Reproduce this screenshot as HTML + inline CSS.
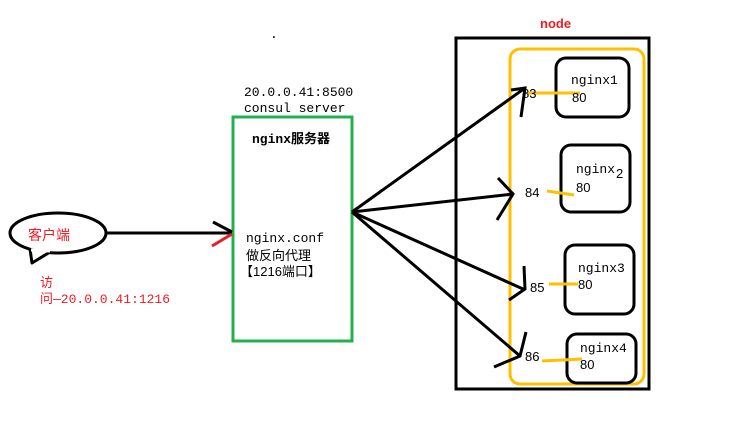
<!DOCTYPE html>
<html><head><meta charset="utf-8"><style>
body{margin:0;background:#fff}
svg{display:block}
text{font-family:"Liberation Mono","Noto Sans CJK SC",monospace;font-size:13px;fill:#000}
.s{font-family:"Liberation Sans","Noto Sans CJK SC",sans-serif}
</style></head><body>
<svg width="751" height="427" viewBox="0 0 751 427">
<rect x="456" y="38" width="193" height="351" fill="none" stroke="#000" stroke-width="3"/>
<rect x="510" y="49" width="134" height="335" rx="10" fill="none" stroke="#ffc000" stroke-width="3"/>
<rect x="556" y="58" width="73" height="59" rx="10" fill="none" stroke="#000" stroke-width="3"/>
<rect x="561" y="145" width="69" height="67" rx="10" fill="none" stroke="#000" stroke-width="3"/>
<rect x="565" y="245" width="69" height="69" rx="10" fill="none" stroke="#000" stroke-width="3"/>
<rect x="567" y="334" width="69" height="49" rx="10" fill="none" stroke="#000" stroke-width="3"/>
<rect x="233" y="117" width="119" height="224" fill="none" stroke="#22b14c" stroke-width="3"/>
<ellipse cx="58" cy="233" rx="48" ry="20" fill="#fff" stroke="#000" stroke-width="3"/>
<polyline points="30,249 32,263 50,252" fill="#fff" stroke="#000" stroke-width="3" stroke-linejoin="round"/>
<line x1="31" y1="250" x2="50" y2="251" stroke="#fff" stroke-width="3"/>
<g stroke="#000" stroke-width="3" fill="none">
<line x1="107" y1="233" x2="232" y2="233"/>
<line x1="213" y1="222" x2="232" y2="232"/>
<line x1="352" y1="212" x2="525" y2="88"/>
<line x1="352" y1="212" x2="513" y2="194"/>
<line x1="352" y1="212" x2="523" y2="289"/>
<line x1="352" y1="212" x2="520" y2="356"/>
<polyline points="511,90 525,88 521,117"/>
<polyline points="498,178 513,194 497,220"/>
<polyline points="524,266 525,289 509,300"/>
<polyline points="526,332 520,356 494,367"/>
</g>
<line x1="212" y1="246" x2="232" y2="234" stroke="#ed1c24" stroke-width="3"/>
<g stroke="#ffc000" stroke-width="3">
<line x1="528" y1="93" x2="580" y2="93"/>
<line x1="547" y1="191" x2="574" y2="195"/>
<line x1="549" y1="284" x2="578" y2="284"/>
<line x1="542" y1="361" x2="582" y2="359"/>
</g>
<text x="540" y="28" style="fill:#ed1c24;font-weight:bold" class="s" font-size="12">node</text>
<text x="244" y="96">20.0.0.41:8500</text>
<text x="244" y="112">consul server</text>
<text x="252" y="143" font-weight="bold">nginx服务器</text>
<text x="246" y="242">nginx.conf</text>
<text x="246" y="260" class="s">做反向代理</text>
<text x="240" y="276" class="s">【1216端口】</text>
<text x="28" y="240" class="s" style="fill:#ed1c24;font-size:14px">客户端</text>
<text x="40" y="287" class="s" style="fill:#ed1c24">访</text>
<text x="40" y="303" style="fill:#ed1c24">问—20.0.0.41:1216</text>
<text x="571" y="84">nginx1</text><text x="572" y="102" class="s">80</text>
<text x="576" y="173">nginx</text><text x="616" y="178" class="s">2</text><text x="576" y="192" class="s">80</text>
<text x="578" y="272">nginx3</text><text x="578" y="289" class="s">80</text>
<text x="580" y="352">nginx4</text><text x="580" y="369" class="s">80</text>
<text x="522" y="98" class="s">83</text>
<text x="525" y="197" class="s">84</text>
<text x="530" y="292" class="s">85</text>
<text x="525" y="361" class="s">86</text>
<text x="270" y="38" font-size="8">.</text>
</svg>
</body></html>
